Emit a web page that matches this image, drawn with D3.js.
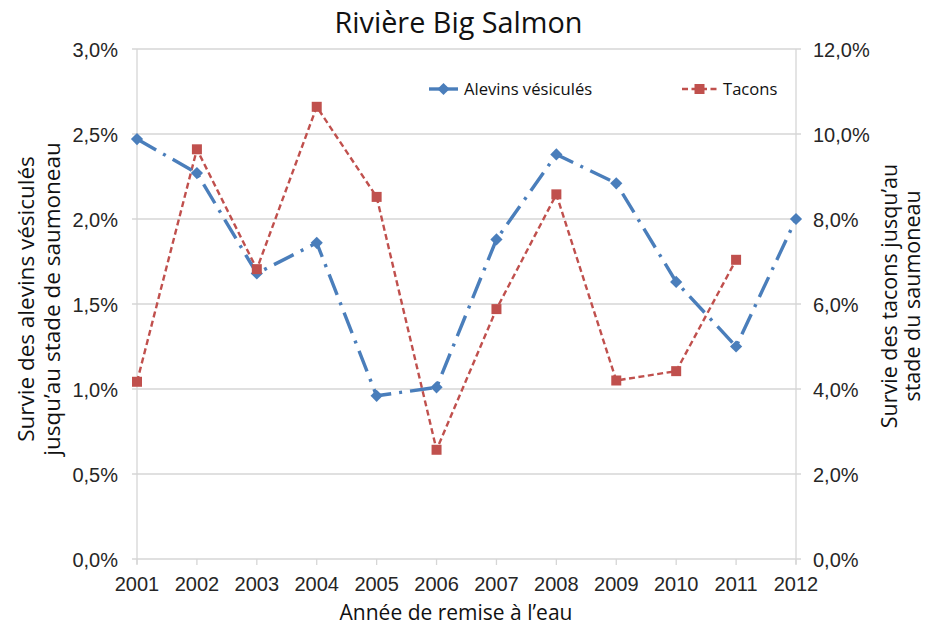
<!DOCTYPE html>
<html>
<head>
<meta charset="utf-8">
<script src="https://cdn.jsdelivr.net/npm/d3@7"></script>
<style>
  html, body { margin: 0; padding: 0; background: #fff; }
  svg { display: block; }
</style>
</head>
<body>
<svg id="chart" width="927" height="627"></svg>
<script>
// Release years
const years = [2001, 2002, 2003, 2004, 2005, 2006, 2007, 2008, 2009, 2010, 2011, 2012];
// Survival of yolk-sac fry to smolt stage (%), left axis
const alevins = [2.47, 2.27, 1.68, 1.86, 0.96, 1.01, 1.88, 2.38, 2.21, 1.63, 1.25, 2.00];
// Survival of parr to smolt stage (%), right axis; no 2012 value
const tacons = [4.17, 9.64, 6.82, 10.64, 8.52, 2.57, 5.88, 8.58, 4.20, 4.42, 7.04, null];
// Axis ticks
const leftTicks = [0, 0.5, 1.0, 1.5, 2.0, 2.5, 3.0];
const rightTicks = [0, 2, 4, 6, 8, 10, 12];

const svg = d3.select("#chart");
const plot = { left: 137, right: 796, top: 49, bottom: 559 };

const x = d3.scaleLinear().domain([2001, 2012]).range([plot.left, plot.right]);
const yL = d3.scaleLinear().domain([0, 3]).range([plot.bottom, plot.top]);
const yR = d3.scaleLinear().domain([0, 12]).range([plot.bottom, plot.top]);

const fmt = v => d3.format(".1f")(v).replace(".", ",") + "%";
const tickFont = "'Liberation Sans', Arial, sans-serif";
const textFont = "'Open Sans', 'Noto Sans', sans-serif";
const gridColor = "#d6d6d6";
const blue = "#4a7ebb";
const red = "#c0504d";

// Horizontal gridlines (with small outer ticks on both sides)
svg.append("g").selectAll("line").data(leftTicks).join("line")
  .attr("x1", plot.left - 5).attr("x2", plot.right + 5)
  .attr("y1", d => yL(d)).attr("y2", d => yL(d))
  .attr("stroke", gridColor).attr("stroke-width", 1.3);

// Vertical frame lines
[plot.left, plot.right].forEach(px => {
  svg.append("line").attr("x1", px).attr("x2", px)
    .attr("y1", plot.top).attr("y2", plot.bottom + 5)
    .attr("stroke", gridColor).attr("stroke-width", 1.3);
});

// Bottom year ticks
svg.append("g").selectAll("line").data(years).join("line")
  .attr("x1", d => x(d)).attr("x2", d => x(d))
  .attr("y1", plot.bottom).attr("y2", plot.bottom + 6)
  .attr("stroke", gridColor).attr("stroke-width", 1.3);

// Left tick labels
svg.append("g").selectAll("text").data(leftTicks).join("text")
  .attr("x", plot.left - 19).attr("y", d => yL(d) + 1).attr("dy", "0.36em")
  .attr("text-anchor", "end").attr("font-family", tickFont).attr("font-size", 20)
  .attr("fill", "#262626").text(fmt);

// Right tick labels
svg.append("g").selectAll("text").data(rightTicks).join("text")
  .attr("x", plot.right + 17).attr("y", d => yR(d) + 1).attr("dy", "0.36em")
  .attr("text-anchor", "start").attr("font-family", tickFont).attr("font-size", 20)
  .attr("fill", "#262626").text(fmt);

// Year labels
svg.append("g").selectAll("text").data(years).join("text")
  .attr("x", d => x(d)).attr("y", 590.5)
  .attr("text-anchor", "middle").attr("font-family", tickFont).attr("font-size", 20)
  .attr("fill", "#262626").text(d => d);

// Title
svg.append("text").attr("x", 458.5).attr("y", 33).attr("text-anchor", "middle")
  .attr("font-family", textFont).attr("font-size", 28.8).attr("fill", "#111")
  .text("Rivière Big Salmon");

// Axis titles
svg.append("text").attr("x", 456).attr("y", 620).attr("text-anchor", "middle")
  .attr("font-family", textFont).attr("font-size", 21).attr("fill", "#111")
  .text("Année de remise à l’eau");

const leftTitle = svg.append("text").attr("transform", "translate(0,299) rotate(-90)")
  .attr("text-anchor", "middle").attr("font-family", textFont).attr("font-size", 22.5).attr("fill", "#111");
leftTitle.append("tspan").attr("x", 0).attr("y", 34).text("Survie des alevins vésiculés");
leftTitle.append("tspan").attr("x", 0).attr("y", 60).text("jusqu’au stade de saumoneau");

const rightTitle = svg.append("text").attr("transform", "translate(0,296) rotate(-90)")
  .attr("text-anchor", "middle").attr("font-family", textFont).attr("font-size", 21.5).attr("fill", "#111");
rightTitle.append("tspan").attr("x", 0).attr("y", 897).text("Survie des tacons jusqu’au");
rightTitle.append("tspan").attr("x", 0).attr("y", 920).text("stade du saumoneau");

// Series lines
const lineL = d3.line().defined(d => d[1] != null).x(d => x(d[0])).y(d => yL(d[1]));
const lineR = d3.line().defined(d => d[1] != null).x(d => x(d[0])).y(d => yR(d[1]));
const alevinsData = years.map((y, i) => [y, alevins[i]]);
const taconsData = years.map((y, i) => [y, tacons[i]]);

svg.append("path").datum(taconsData).attr("d", lineR)
  .attr("fill", "none").attr("stroke", red).attr("stroke-width", 2.4)
  .attr("stroke-dasharray", "6,3.5");

svg.append("path").datum(alevinsData).attr("d", lineL)
  .attr("fill", "none").attr("stroke", blue).attr("stroke-width", 3.4)
  .attr("stroke-dasharray", "22,8,3,8");

// Markers
const diamond = d3.symbol().type(d3.symbolDiamond2).size(95);
svg.append("g").selectAll("path").data(alevinsData).join("path")
  .attr("d", diamond).attr("transform", d => `translate(${x(d[0])},${yL(d[1])})`)
  .attr("fill", blue);

const sq = 10;
svg.append("g").selectAll("rect").data(taconsData.filter(d => d[1] != null)).join("rect")
  .attr("x", d => x(d[0]) - sq / 2).attr("y", d => yR(d[1]) - sq / 2)
  .attr("width", sq).attr("height", sq).attr("fill", red);

// Legend
const lg = svg.append("g");
lg.append("line").attr("x1", 429).attr("x2", 458).attr("y1", 89).attr("y2", 89)
  .attr("stroke", blue).attr("stroke-width", 3.4);
lg.append("path").attr("d", diamond).attr("transform", "translate(443.5,89)").attr("fill", blue);
lg.append("text").attr("x", 464).attr("y", 89).attr("dy", "0.35em")
  .attr("font-family", textFont).attr("font-size", 16.6).attr("fill", "#111").text("Alevins vésiculés");

lg.append("line").attr("x1", 682).attr("x2", 717).attr("y1", 89).attr("y2", 89)
  .attr("stroke", red).attr("stroke-width", 2.4).attr("stroke-dasharray", "6,3.5");
lg.append("rect").attr("x", 699.5 - sq / 2).attr("y", 89 - sq / 2).attr("width", sq).attr("height", sq).attr("fill", red);
lg.append("text").attr("x", 723).attr("y", 89).attr("dy", "0.35em")
  .attr("font-family", textFont).attr("font-size", 16.6).attr("fill", "#111").text("Tacons");
</script>
</body>
</html>
